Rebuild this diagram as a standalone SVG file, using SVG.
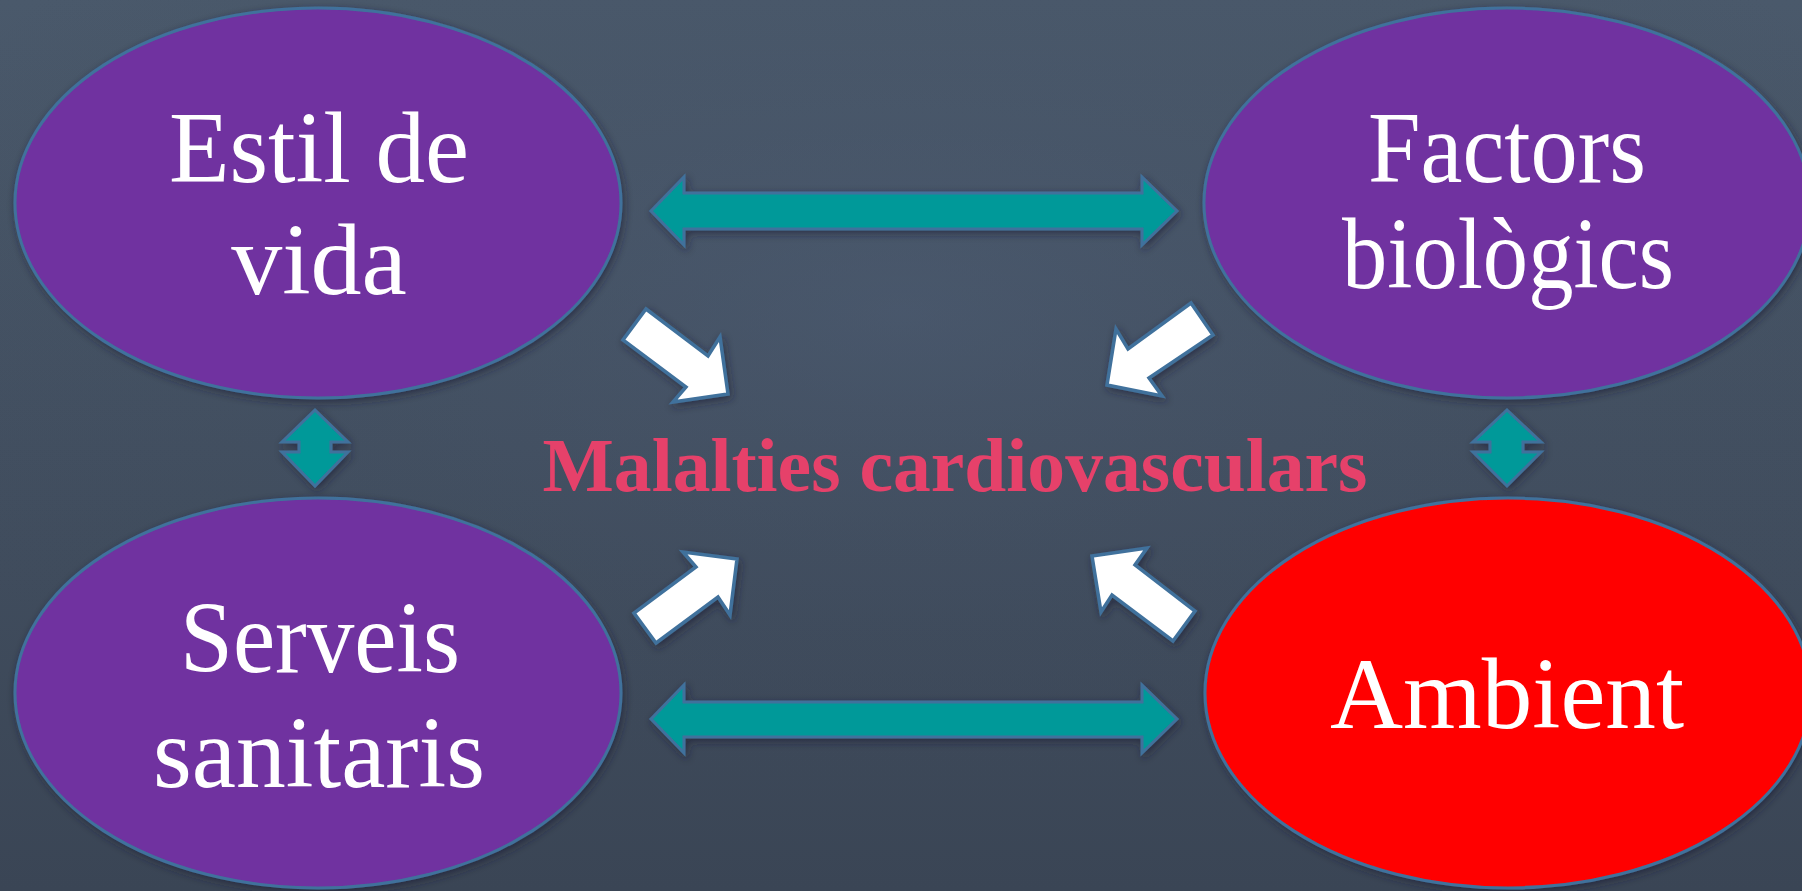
<svg xmlns="http://www.w3.org/2000/svg" width="1802" height="891" viewBox="0 0 1802 891">
<defs>
<linearGradient id="bg" x1="0" y1="0" x2="0" y2="1">
<stop offset="0" stop-color="#4a596b"/>
<stop offset="1" stop-color="#3a4555"/>
</linearGradient>
<radialGradient id="bg2" cx="0.5" cy="0.35" r="0.6">
<stop offset="0" stop-color="#50607a" stop-opacity="0.35"/>
<stop offset="1" stop-color="#3a4555" stop-opacity="0"/>
</radialGradient>
<filter id="sh" x="-20%" y="-20%" width="140%" height="140%">
<feDropShadow dx="2" dy="3" stdDeviation="4" flood-color="#1a2230" flood-opacity="0.6"/>
</filter>
</defs>
<style>
.node{stroke:#41719c;stroke-width:3;filter:url(#sh)}
.purple{fill:#7030a0}
.red{fill:#ff0000}
.lbl{font-family:"Liberation Serif","Times New Roman",serif;font-size:102px;fill:#ffffff;text-anchor:middle}
.teal{fill:#009999;stroke:#41719c;stroke-width:3;stroke-linejoin:miter;filter:url(#sh)}
.white{fill:#ffffff;stroke:#41719c;stroke-width:3.5;stroke-linejoin:miter;filter:url(#sh)}
.title{font-family:"Liberation Serif","Times New Roman",serif;font-size:77px;font-weight:bold;fill:#e6416a;text-anchor:middle}
</style>
<rect width="1802" height="891" fill="url(#bg)"/>
<rect width="1802" height="891" fill="url(#bg2)"/>

<g id="estil">
<ellipse class="node purple" cx="318" cy="203" rx="303" ry="195"/>
<text class="lbl" x="319" y="182" textLength="300" lengthAdjust="spacingAndGlyphs">Estil de</text>
<text class="lbl" x="319" y="294">vida</text>
</g>
<g id="factors">
<ellipse class="node purple" cx="1507" cy="203" rx="303" ry="195"/>
<text class="lbl" x="1507" y="182" textLength="278" lengthAdjust="spacingAndGlyphs">Factors</text>
<text class="lbl" x="1508" y="288" textLength="332" lengthAdjust="spacingAndGlyphs">biològics</text>
</g>
<g id="serveis">
<ellipse class="node purple" cx="318" cy="693" rx="303" ry="195"/>
<text class="lbl" x="320" y="672" textLength="280" lengthAdjust="spacingAndGlyphs">Serveis</text>
<text class="lbl" x="319" y="787" textLength="332" lengthAdjust="spacingAndGlyphs">sanitaris</text>
</g>
<g id="ambient">
<ellipse class="node red" cx="1508" cy="693" rx="303" ry="195"/>
<text class="lbl" x="1507" y="728" textLength="354" lengthAdjust="spacingAndGlyphs">Ambient</text>
</g>
<g id="malalties">
<text class="title" x="955" y="491" textLength="825" lengthAdjust="spacingAndGlyphs">Malalties cardiovasculars</text>
</g>

<g id="connectors">
<polygon class="teal" points="651,211 684,177 684,193 1142,193 1142,177 1177,211 1142,245 1142,229 684,229 684,245"/>
<polygon class="teal" points="651,719 684,685 684,702 1142,702 1142,685 1177,719 1142,753 1142,737 684,737 684,753"/>
<polygon class="teal" points="315,410 348,442 331,442 331,452 348,452 315,486 282,452 299,452 299,442 282,442"/>
<polygon class="teal" points="1507,410 1541,442 1523,442 1523,452 1541,452 1507,486 1473,452 1490,452 1490,442 1473,442"/>
<polygon class="white" points="646,309 708,356 720,337 728,394 673,402 686,387 623,340"/>
<polygon class="white" points="1191,303 1213,335 1149,378 1162,396 1107,385 1116,329 1128,349"/>
<polygon class="white" points="656,643 718,597 730,615 737,559 683,552 696,567 634,613"/>
<polygon class="white" points="1173,641 1195,611 1135,565 1147,548 1092,556 1101,612 1112,595"/>
</g>
</svg>
